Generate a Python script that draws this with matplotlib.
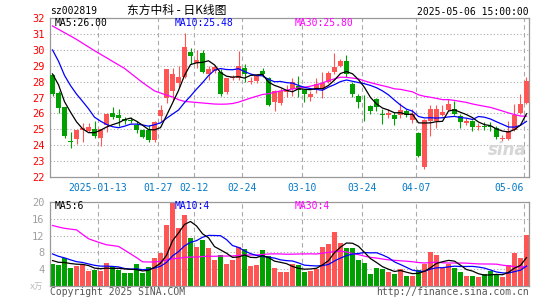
import matplotlib
matplotlib.use('Agg')
import matplotlib.pyplot as plt
import pandas as pd

plt.rcParams['font.family'] = ['DejaVu Sans Mono', 'Noto Sans CJK SC']

# daily candles, 2024-12-31 .. 2025-05-06
open_ = [28.40, 27.26, 26.38, 24.27, 24.40, 24.96, 24.91, 25.00, 24.47, 25.25,
         26.05, 25.90, 25.65, 25.60, 25.25, 24.93, 24.96, 24.35, 25.85, 27.00,
         27.40, 27.90, 28.30, 29.85, 29.20, 29.80, 28.45, 28.65, 28.60, 27.35,
         28.20, 28.25, 28.85, 27.95, 28.05, 28.65, 28.20, 26.70, 26.65, 27.35,
         27.55, 27.70, 27.50, 27.05, 27.50, 27.55, 28.00, 28.62, 29.00, 29.30,
         27.85, 27.10, 26.55, 26.45, 26.90, 25.95, 25.87, 25.88, 25.90, 26.15,
         25.60, 24.75, 22.60, 25.55, 25.55, 25.90, 26.22, 26.30, 25.85, 25.42,
         25.52, 25.17, 25.22, 25.22, 25.06, 24.40, 24.40, 24.97, 26.00, 26.65]
high = [28.50, 27.40, 26.40, 24.80, 25.00, 25.42, 25.38, 25.52, 25.05, 26.00,
        26.40, 26.25, 25.75, 25.75, 25.50, 25.05, 25.28, 25.55, 26.55, 28.80,
        28.85, 29.00, 31.05, 30.10, 30.00, 30.00, 29.00, 29.05, 28.80, 28.25,
        28.40, 29.95, 29.10, 28.30, 28.45, 28.85, 28.30, 27.45, 27.60, 27.80,
        28.20, 28.35, 27.55, 27.40, 28.20, 28.60, 28.65, 29.80, 29.40, 29.70,
        28.00, 27.20, 27.15, 26.55, 26.95, 26.30, 26.25, 26.10, 26.65, 26.30,
        26.25, 24.80, 25.65, 26.55, 26.55, 26.50, 26.90, 26.80, 25.95, 25.72,
        25.60, 25.38, 25.48, 25.45, 25.20, 24.62, 25.50, 26.60, 27.25, 28.30]
low = [27.10, 26.05, 24.45, 23.85, 24.10, 24.18, 24.85, 24.43, 23.95, 24.80,
       25.65, 25.20, 25.35, 25.38, 24.75, 24.45, 24.18, 24.18, 25.50, 26.65,
       26.80, 27.60, 28.20, 29.10, 28.85, 28.55, 28.10, 28.55, 27.10, 27.25,
       28.10, 28.10, 28.00, 27.85, 27.90, 28.30, 26.45, 26.17, 26.50, 27.05,
       27.10, 27.05, 26.70, 26.75, 27.30, 26.95, 27.90, 28.50, 28.90, 28.30,
       27.00, 26.33, 25.55, 25.95, 26.17, 25.35, 25.72, 25.30, 25.70, 25.80,
       25.42, 23.25, 22.50, 24.55, 25.10, 25.85, 26.15, 25.90, 25.06, 25.30,
       24.90, 24.95, 24.95, 24.90, 24.38, 24.28, 24.30, 24.90, 25.95, 26.60]
close = [27.22, 26.36, 24.60, 24.22, 24.95, 25.06, 25.12, 24.58, 25.00, 25.95,
         25.80, 25.72, 25.55, 25.50, 24.98, 24.54, 24.35, 25.45, 26.20, 28.80,
         28.45, 28.30, 30.20, 29.60, 29.35, 28.60, 28.80, 28.90, 27.20, 28.20,
         28.30, 28.95, 28.45, 28.05, 28.35, 28.45, 26.55, 27.40, 27.40, 27.45,
         28.00, 27.50, 27.25, 27.25, 27.85, 27.90, 28.55, 28.94, 29.32, 28.45,
         27.20, 26.70, 26.50, 26.17, 26.42, 25.90, 26.05, 25.65, 26.20, 25.88,
         25.97, 23.33, 25.60, 26.25, 26.25, 26.07, 26.58, 25.97, 25.48, 25.52,
         25.12, 25.20, 25.15, 25.15, 24.50, 24.45, 24.90, 25.90, 26.58, 28.05]
volume = [5.3, 4.9, 6.75, 4.3, 4.7, 5.1, 3.5, 3.7, 3.6, 5.4,
          4.7, 3.7, 3.0, 3.0, 5.2, 3.0, 4.5, 6.6, 7.9, 14.5,
          20.3, 13.8, 16.8, 11.4, 9.2, 11.0, 9.0, 6.3, 7.5, 5.2,
          6.1, 9.4, 8.7, 4.7, 4.9, 8.5, 7.1, 4.4, 3.3, 3.3,
          5.2, 4.9, 3.3, 3.6, 4.1, 9.3, 9.9, 12.8, 10.2, 9.0,
          9.0, 6.3, 5.5, 2.8, 4.4, 4.0, 3.3, 2.8, 4.0, 2.3,
          2.3, 3.7, 5.3, 8.1, 7.5, 4.3, 5.3, 4.4, 3.3, 2.3,
          2.5, 2.1, 2.8, 3.5, 2.9, 2.1, 4.9, 7.9, 6.7, 12.2]

# sessions before the window (only feed the moving averages),
# estimated from where the MA lines enter on the left
prev_close = [32.7, 30.9, 30.5, 31.3, 32.2, 32.2, 31.7, 31.7, 32.6, 32.5,
              32.4, 32.2, 34.4, 33.9, 33.4, 32.3, 33.3, 30.2, 32.8, 31.8,
              33.5, 33.5, 30.6, 30.3, 29.6, 29.8, 29.9, 27.5, 28.0]
prev_volume = [16, 16, 10, 10, 37, 35, 19, 18, 19, 10,
               10, 29, 30, 32, 33, 6, 6, 3, 6, 11,
               10.5, 10.5, 9, 9, 7, 7, 7, 5.5, 5.5]

tick_idx = [8, 18, 24, 32, 42, 52, 61, 79]
tick_labels = ['2025-01-13', '01-27', '02-12', '02-24', '03-10', '03-24', '04-07', '05-06']

RED = '#ff5555'
GREEN = '#00a000'
GRID = '#aaaaaa'
W, H = 545, 300

n = len(close)
x = list(range(n))
colors = [RED if c >= o else GREEN for o, c in zip(open_, close)]

c_all = pd.Series(prev_close + close)
v_all = pd.Series(prev_volume + volume)
ma_price = {p: c_all.rolling(p).mean().iloc[-n:].values for p in (5, 10, 30)}
ma_vol = {p: v_all.rolling(p).mean().iloc[-n:].values for p in (5, 10, 30)}
ma_colors = {5: 'black', 10: '#0000ff', 30: '#ff00ff'}

fig = plt.figure(figsize=(W / 100, H / 100), dpi=100)
ax1 = fig.add_axes([50 / W, 1 - 177 / H, 479 / W, 159 / H])
ax2 = fig.add_axes([50 / W, 14 / H, 479 / W, 84 / H])

for ax in (ax1, ax2):
    ax.set_xlim(-0.42, n - 1 + 0.42)
    for s in ax.spines.values():
        s.set_color('#999999')
        s.set_linewidth(0.9)
    for t in tick_idx:
        ax.axvline(t - 0.4, color=GRID, lw=0.8, ls=(0, (4, 3)), zorder=0)
    ax.tick_params(length=0)

# price panel
for yv in range(23, 32):
    ax1.axhline(yv, color=GRID, lw=0.8, ls=(0, (1, 2)), zorder=0)
ax1.vlines(x, low, high, colors=colors, lw=0.8, zorder=2)
bottoms = [min(o, c) for o, c in zip(open_, close)]
heights = [max(abs(c - o), 0.04) for o, c in zip(open_, close)]
ax1.bar(x, heights, bottom=bottoms, width=0.82, color=colors, linewidth=0, zorder=3)
for p in (30, 10, 5):
    ax1.plot(x, ma_price[p], color=ma_colors[p], lw=0.9, zorder=4)
ax1.set_ylim(22, 32)
ax1.set_yticks(range(22, 33))
ax1.set_yticklabels([str(v) for v in range(22, 33)], color='red', fontsize=7.5)
ax1.tick_params(axis='y', pad=4)
ax1.set_xticks([t - 0.4 for t in tick_idx])
ax1.set_xticklabels(tick_labels, color='#0078c8', fontsize=7)
ax1.tick_params(axis='x', pad=4)
ax1.get_xticklabels()[-1].set_horizontalalignment('right')

# volume panel
for yv in (4, 8, 12, 16):
    ax2.axhline(yv, color=GRID, lw=0.8, ls=(0, (1, 2)), zorder=0)
ax2.bar(x, volume, width=0.82, color=colors, linewidth=0, zorder=2)
for p in (30, 10, 5):
    ax2.plot(x, ma_vol[p], color=ma_colors[p], lw=0.9, zorder=4)
ax2.set_ylim(0, 20)
ax2.set_yticks([4, 8, 12, 16, 20])
ax2.set_yticklabels(['4', '8', '12', '16', '20'], color='#a0a0a0', fontsize=7.5)
ax2.tick_params(axis='y', pad=4)
ax2.set_xticks([])

# header and labels
def ftext(px, py, s, **kw):
    fig.text(px / W, 1 - py / H, s, va='center', **kw)

ftext(50, 11, 'sz002819', fontsize=7, color='black')
ftext(177, 10, '东方中科 - 日K线图', fontsize=8.5, ha='center', color='black',
      family=['Noto Sans CJK SC', 'DejaVu Sans'])
ftext(529, 12, '2025-05-06 15:00:00', fontsize=7, ha='right', color='black')

ftext(55, 23.5, 'MA5:26.00', fontsize=7, color='black')
ftext(175, 23.5, 'MA10:25.48', fontsize=7, color='#0000ff')
ftext(295, 23.5, 'MA30:25.80', fontsize=7, color='#ff00ff')
ftext(55, 206, 'MA5:6', fontsize=7, color='black')
ftext(175, 206, 'MA10:4', fontsize=7, color='#0000ff')
ftext(295, 206, 'MA30:4', fontsize=7, color='#ff00ff')

ftext(36, 286, 'x万', fontsize=6, ha='center', color='#bbbbbb',
      family=['DejaVu Sans', 'Noto Sans CJK SC'])
ftext(50, 292, 'Copyright 2025 SINA.COM', fontsize=7, color='#555555')
ftext(529, 292, 'http://finance.sina.com.cn', fontsize=7, ha='right', color='#555555')

# sina watermark
ftext(507, 150, 'sina', fontsize=12, ha='center', color='#d6d6d6',
      family='DejaVu Sans', style='italic', weight='bold')

fig.savefig('out.png', dpi=100)
